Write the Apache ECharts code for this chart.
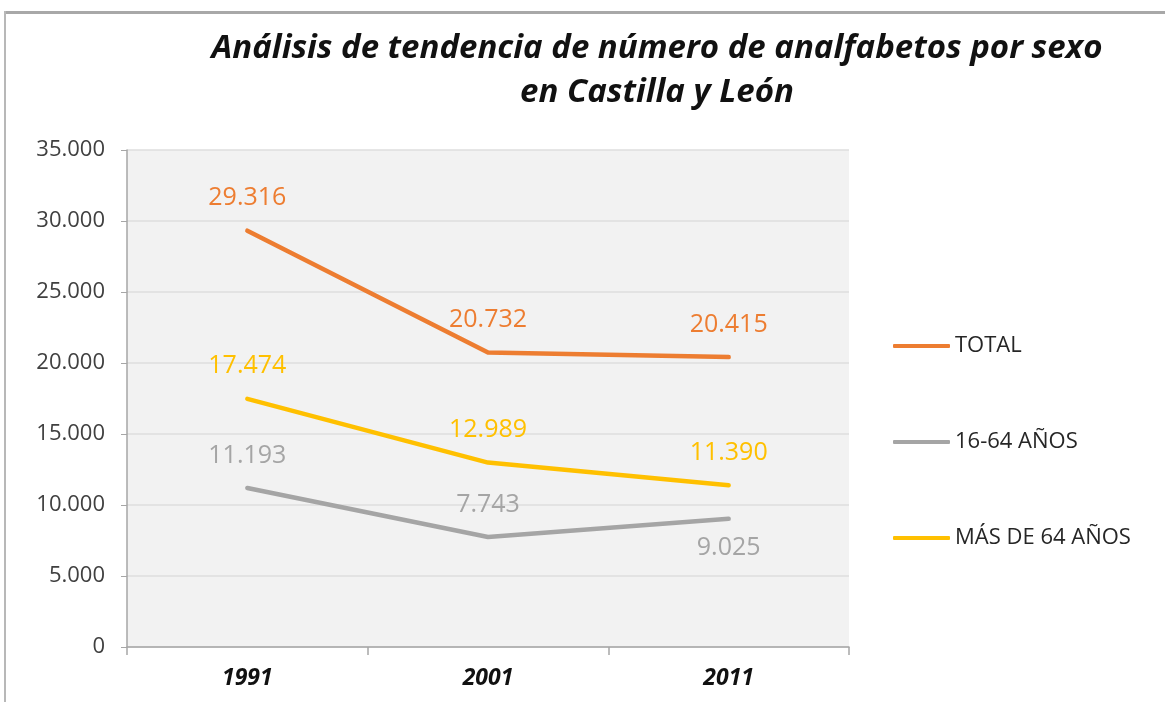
<!DOCTYPE html>
<html>
<head>
<meta charset="utf-8">
<script src="https://cdn.jsdelivr.net/npm/echarts@6/dist/echarts.min.js"></script>
<style>
  html, body { margin: 0; padding: 0; background: #fff; }
  #chart { width: 1165px; height: 702px; }
</style>
</head>
<body>
<div id="chart"></div>
<script>
// datos
var years = ['1991', '2001', '2011'];
var seriesNames = ['TOTAL', '16-64 AÑOS', 'MÁS DE 64 AÑOS'];
var total = [29316, 20732, 20415];
var edad16a64 = [11193, 7743, 9025];
var mas64 = [17474, 12989, 11390];
var colores = ['#ED7D31', '#A5A5A5', '#FFC000'];

var chart = echarts.init(document.getElementById('chart'));

// separador de miles con punto
function miles(v) {
  return String(v).replace(/\B(?=(\d{3})+(?!\d))/g, '.');
}

function serie(name, values, color, below) {
  return {
    name: name,
    type: 'line',
    data: values.map(function (v, i) {
      if (below && below.indexOf(i) >= 0) {
        return { value: v, label: { position: 'bottom', distance: 16 } };
      }
      return v;
    }),
    symbol: 'circle',
    symbolSize: 0.1,
    showSymbol: true,
    lineStyle: { color: color, width: 4.5, cap: 'round', join: 'round' },
    itemStyle: { color: color },
    label: {
      show: true,
      position: 'top',
      distance: 20,
      color: color,
      fontSize: 25,
      fontFamily: 'Open Sans',
      formatter: function (p) { return miles(p.value); }
    }
  };
}

chart.setOption({
  backgroundColor: '#fff',
  animation: false,
  title: {
    text: 'Análisis de tendencia de número de analfabetos por sexo\nen Castilla y León',
    left: 652,
    top: 22,
    textAlign: 'center',
    textStyle: {
      fontFamily: 'Open Sans',
      fontSize: 33,
      fontStyle: 'italic',
      fontWeight: 'bold',
      color: '#111',
      lineHeight: 44
    }
  },
  legend: {
    orient: 'vertical',
    left: 888,
    top: 330,
    itemGap: 74,
    itemWidth: 57,
    itemHeight: 4,
    icon: 'roundRect',
    data: seriesNames,
    textStyle: { fontFamily: 'Open Sans', fontSize: 22, color: '#262626' }
  },
  grid: {
    left: 127,
    right: 316,
    top: 150,
    bottom: 55,
    show: true,
    backgroundColor: '#F2F2F2',
    borderWidth: 0
  },
  xAxis: {
    type: 'category',
    data: years,
    axisLine: { lineStyle: { color: '#A6A6A6', width: 1.5 } },
    axisTick: { show: true, length: 8, lineStyle: { color: '#A6A6A6', width: 1.5 } },
    axisLabel: {
      margin: 20,
      fontFamily: 'Open Sans',
      fontSize: 23,
      fontStyle: 'italic',
      fontWeight: 'bold',
      color: '#111'
    }
  },
  yAxis: {
    type: 'value',
    min: 0,
    max: 35000,
    interval: 5000,
    axisLine: { show: true, lineStyle: { color: '#A6A6A6', width: 1.5 } },
    axisTick: { show: true, length: 6, lineStyle: { color: '#A6A6A6' } },
    splitLine: { lineStyle: { color: '#DEDEDE', width: 1.5 } },
    axisLabel: {
      margin: 22,
      fontFamily: 'Open Sans',
      fontSize: 22,
      color: '#404040',
      formatter: function (v) { return miles(v); }
    }
  },
  series: [
    serie(seriesNames[0], total, colores[0]),
    serie(seriesNames[1], edad16a64, colores[1], [2]),
    serie(seriesNames[2], mas64, colores[2])
  ],
  graphic: [
    { type: 'rect', shape: { x: 4, y: 11, width: 1161, height: 3 }, style: { fill: '#A8A8A8' }, silent: true },
    { type: 'rect', shape: { x: 4, y: 11, width: 2, height: 691 }, style: { fill: '#B8B8B8' }, silent: true }
  ]
});
</script>
</body>
</html>
